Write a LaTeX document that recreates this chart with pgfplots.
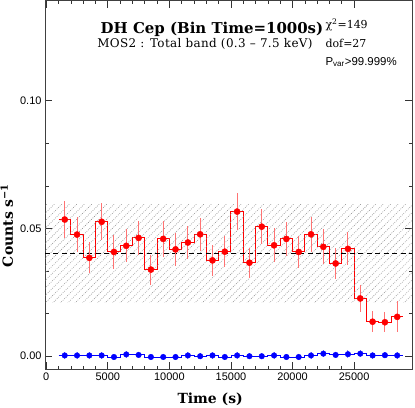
\documentclass[border=0pt]{standalone}
\usepackage{fontspec}
\setmainfont{DejaVu Serif}
\setsansfont{Liberation Sans}
\usepackage{pgfplots}
\usepackage{pgfplotstable}
\pgfplotsset{compat=1.18}
\usetikzlibrary{patterns.meta}

% dotted diagonal hatching for the +/- 1 sigma band
\pgfdeclarepattern{
  name=dothatch, type=uncolored,
  bottom left={\pgfpoint{-0.5pt}{-0.5pt}},
  top right={\pgfpoint{8pt}{8pt}},
  tile size={\pgfpoint{7.5pt}{7.5pt}},
  code={
    \pgfsetlinewidth{0.55pt}
    \pgfsetdash{{0.8pt}{1.32pt}}{0pt}
    \pgfpathmoveto{\pgfpoint{0pt}{0pt}}
    \pgfpathlineto{\pgfpoint{7.5pt}{7.5pt}}
    \pgfusepath{stroke}
  }
}

% MOS2 source light curve, 1000 s bins
\pgfplotstableread{
t     rate    err
1500  0.0535  0.0073
2500  0.0476  0.0070
3500  0.0385  0.0061
4500  0.0526  0.0072
5500  0.0408  0.0065
6500  0.0432  0.0065
7500  0.0463  0.0068
8500  0.0339  0.0059
9500  0.0459  0.0069
10500 0.0418  0.0064
11500 0.0445  0.0066
12500 0.0477  0.0065
13500 0.0375  0.0061
14500 0.0409  0.0061
15500 0.0566  0.0074
16500 0.0366  0.0059
17500 0.0507  0.0069
18500 0.0434  0.0066
19500 0.0459  0.0066
20500 0.0408  0.0064
21500 0.0477  0.0068
22500 0.0428  0.0068
23500 0.0363  0.0059
24500 0.0420  0.0065
25500 0.0226  0.0053
26500 0.0135  0.0042
27500 0.0133  0.0039
28500 0.0154  0.0061
}\srcdata

% same values at the bin edges, for the histogram steps
\pgfplotstableread{
t     rate
1000  0.0535
2000  0.0476
3000  0.0385
4000  0.0526
5000  0.0408
6000  0.0432
7000  0.0463
8000  0.0339
9000  0.0459
10000 0.0418
11000 0.0445
12000 0.0477
13000 0.0375
14000 0.0409
15000 0.0566
16000 0.0366
17000 0.0507
18000 0.0434
19000 0.0459
20000 0.0408
21000 0.0477
22000 0.0428
23000 0.0363
24000 0.0420
25000 0.0226
26000 0.0135
27000 0.0133
28000 0.0154
29000 0.0154
}\srcstep

% background
\pgfplotstableread{
t     rate     err
1500  0.0003   0.0012
2500  0.0003   0.0012
3500  0.0003   0.0012
4500  0.0003   0.0012
5500  -0.0003  0.0011
6500  0.0007   0.0013
7500  0.0005   0.0013
8500  -0.0003  0.0011
9500  -0.0003  0.0011
10500 -0.0003  0.0011
11500 0.0003   0.0012
12500 0.0000   0.0012
13500 0.0003   0.0012
14500 -0.0003  0.0011
15500 0.0003   0.0012
16500 0.0000   0.0012
17500 0.0000   0.0011
18500 0.0003   0.0012
19500 -0.0003  0.0011
20500 -0.0003  0.0011
21500 0.0003   0.0012
22500 0.0010   0.0014
23500 0.0005   0.0013
24500 0.0008   0.0015
25500 0.0010   0.0014
26500 0.0003   0.0012
27500 0.0004   0.0012
28500 0.0003   0.0014
}\bkgdata

\pgfplotstableread{
t     rate
1000  0.0003
2000  0.0003
3000  0.0003
4000  0.0003
5000  -0.0003
6000  0.0007
7000  0.0005
8000  -0.0003
9000  -0.0003
10000 -0.0003
11000 0.0003
12000 0.0000
13000 0.0003
14000 -0.0003
15000 0.0003
16000 0.0000
17000 0.0000
18000 0.0003
19000 -0.0003
20000 -0.0003
21000 0.0003
22000 0.0010
23000 0.0005
24000 0.0008
25000 0.0010
26000 0.0003
27000 0.0004
28000 0.0003
29000 0.0003
}\bkgstep

\begin{document}
\begin{tikzpicture}
\begin{axis}[
  scale only axis,
  width=367bp, height=368bp,
  xmin=-100, xmax=29700,
  ymin=-0.005, ymax=0.139,
  xtick={0,5000,10000,15000,20000,25000},
  minor x tick num=4,
  ytick={0,0.05,0.10},
  minor y tick num=2,
  scaled x ticks=false, scaled y ticks=false,
  xticklabel style={/pgf/number format/set thousands separator={}},
  yticklabel style={/pgf/number format/.cd, fixed, fixed zerofill, precision=2},
  /pgf/number format/assume math mode=true,
  ticklabel style={font=\sffamily\fontsize{11}{13}\selectfont},
  tick align=inside,
  major tick length=7bp, minor tick length=3.5bp,
  tick style={black!80, line width=0.7pt},
  axis line style={black!75, line width=1pt},
  xlabel={Time (s)},
  ylabel={Counts s\textsuperscript{−1}},
  label style={font=\bfseries\fontsize{14}{16}\selectfont},
  xlabel style={at={(axis description cs:0.45,-0.082)}, anchor=center},
  ylabel style={at={(axis description cs:-0.104,0.39)}, anchor=center},
  clip=true,
]
% source steps
\addplot[draw=red, color=red, line width=1pt, const plot mark left] table[x=t, y=rate] {\srcstep};

% 1 sigma band about the mean
\addplot[draw=none, pattern=dothatch, pattern color=black!45]
  coordinates {(-100,0.0209) (29700,0.0209) (29700,0.0593) (-100,0.0593)} -- cycle;

\addplot[draw=black, line width=0.8pt, dash pattern=on 5pt off 3.5pt]
  coordinates {(-100,0.0402) (29700,0.0402)};

\addplot[only marks, mark=*, mark size=3.1bp, red,
  error bars/.cd, y dir=both, y explicit,
  error mark=none, error bar style={red!55, line width=1pt}]
  table[x=t, y=rate, y error=err] {\srcdata};

% background
\addplot[draw=blue, color=blue, line width=0.9pt, const plot mark left] table[x=t, y=rate] {\bkgstep};
\addplot[only marks, mark=*, mark size=2.8bp, blue,
  error bars/.cd, y dir=both, y explicit,
  error mark=none, error bar style={blue!45, line width=1pt}]
  table[x=t, y=rate, y error=err] {\bkgdata};

\node[font=\bfseries\fontsize{15}{17}\selectfont] at (axis description cs:0.455,0.924)
  {DH Cep (Bin Time=1000s)};
\node[font=\fontsize{12}{13}\selectfont\addfontfeature{LetterSpace=3}] at (axis description cs:0.436,0.883)
  {MOS2 : Total band (0.3 – 7.5 keV)};
\node[anchor=west, font=\fontsize{11}{12}\selectfont, inner sep=0pt] at (axis description cs:0.764,0.935)
  {χ\textsuperscript{2}=149};
\node[anchor=west, font=\fontsize{11}{12}\selectfont, inner sep=0pt] at (axis description cs:0.764,0.886)
  {dof=27};
\node[anchor=west, font=\sffamily\fontsize{11.5}{12}\selectfont, inner sep=0pt] at (axis description cs:0.764,0.834)
  {P\textsubscript{var}>99.999\%};
\end{axis}
\pgfresetboundingbox
\path ([shift={(-45bp,-39bp)}]current axis.south west)
  rectangle ([shift={(3bp,1bp)}]current axis.north east);
\end{tikzpicture}
\end{document}
